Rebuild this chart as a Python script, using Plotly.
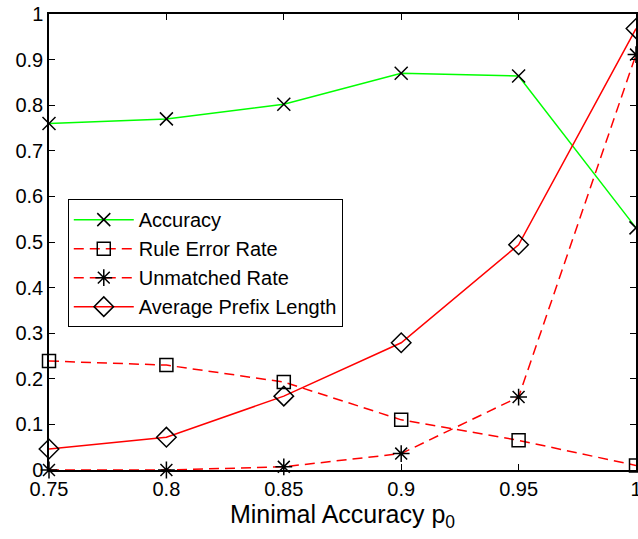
import plotly.graph_objects as go

p0 = [0.75, 0.8, 0.85, 0.9, 0.95, 1.0]
accuracy = [0.760, 0.770, 0.802, 0.870, 0.864, 0.531]
rule_error = [0.239, 0.230, 0.193, 0.110, 0.065, 0.010]
unmatched = [0.0, 0.0, 0.007, 0.036, 0.160, 0.911]
avg_prefix = [0.046, 0.072, 0.162, 0.279, 0.494, 0.968]

x_ticks = [0.75, 0.8, 0.85, 0.9, 0.95, 1.0]
x_ticklabels = ["0.75", "0.8", "0.85", "0.9", "0.95", "1"]
y_ticks = [0, 0.1, 0.2, 0.3, 0.4, 0.5, 0.6, 0.7, 0.8, 0.9, 1.0]
y_ticklabels = ["0", "0.1", "0.2", "0.3", "0.4", "0.5", "0.6", "0.7", "0.8", "0.9", "1"]

FONT = "Liberation Sans, Arial, Helvetica, sans-serif"
DASH = "10px,6px"

fig = go.Figure()
fig.add_trace(go.Scatter(
    x=p0, y=accuracy, name="Accuracy", mode="lines+markers",
    line=dict(color="#00ff00", width=1.5),
    marker=dict(symbol="x-thin-open", size=13, color="black",
                line=dict(color="black", width=1.5)),
    cliponaxis=False))
fig.add_trace(go.Scatter(
    x=p0, y=rule_error, name="Rule Error Rate", mode="lines+markers",
    line=dict(color="#ff0000", width=1.5, dash=DASH),
    marker=dict(symbol="square-open", size=13, color="black",
                line=dict(color="black", width=1.5)),
    cliponaxis=False))
fig.add_trace(go.Scatter(
    x=p0, y=unmatched, name="Unmatched Rate", mode="lines+markers",
    line=dict(color="#ff0000", width=1.5, dash=DASH),
    marker=dict(symbol="asterisk-open", size=14, color="black",
                line=dict(color="black", width=1.5)),
    cliponaxis=False))
fig.add_trace(go.Scatter(
    x=p0, y=avg_prefix, name="Average Prefix Length", mode="lines+markers",
    line=dict(color="#ff0000", width=1.5),
    marker=dict(symbol="diamond-open", size=15, color="black",
                line=dict(color="black", width=1.5)),
    cliponaxis=False))

axis_common = dict(
    showline=True, linecolor="black", linewidth=1.5, mirror="ticks",
    ticks="inside", ticklen=6, tickcolor="black", tickwidth=1,
    showgrid=False, zeroline=False, ticklabeloverflow="allow",
    automargin=False,
    tickfont=dict(family=FONT, size=20, color="black"),
)

fig.update_xaxes(range=[0.75, 1.0], tickmode="array", tickvals=x_ticks,
                 ticktext=x_ticklabels,
                 title=dict(text="Minimal Accuracy p<sub>0</sub>",
                            font=dict(family=FONT, size=25, color="black"),
                            standoff=2),
                 **axis_common)
fig.update_yaxes(range=[0, 1], tickmode="array", tickvals=y_ticks,
                 ticktext=y_ticklabels, **axis_common)

fig.update_layout(
    width=638, height=539,
    margin=dict(l=49, r=2, t=14, b=69, autoexpand=False),
    paper_bgcolor="white", plot_bgcolor="white",
    font=dict(family=FONT, color="black"),
    legend=dict(x=0.032, y=0.594, xanchor="left", yanchor="top",
                bgcolor="white", bordercolor="black", borderwidth=1,
                font=dict(family=FONT, size=20, color="black"),
                itemwidth=60, tracegroupgap=0),
    showlegend=True,
)

fig.write_html("out.html")
